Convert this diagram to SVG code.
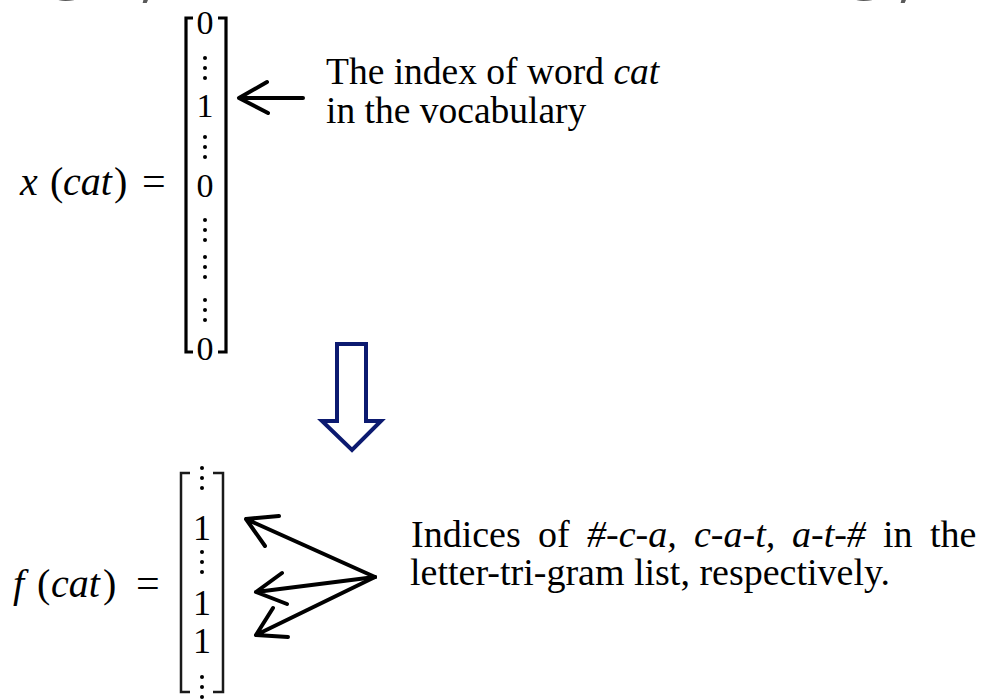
<svg xmlns="http://www.w3.org/2000/svg" width="990" height="699" viewBox="0 0 990 699">
<style>
.serif{font-family:"Liberation Serif","Times New Roman",serif;fill:#000}
.it{font-style:italic}
.dig{font-family:"Liberation Serif","Times New Roman",serif;fill:#000;text-anchor:middle}
.br{fill:none;stroke:#000;stroke-width:3.2}
.br2{fill:none;stroke:#1a1a1a;stroke-width:2.5}
.arr{fill:none;stroke:#000;stroke-width:4;stroke-linecap:round;stroke-linejoin:round}
.frag{font-family:"Open Sans","DejaVu Sans",sans-serif;fill:#595959;font-size:66px}
</style>
<defs>
<g id="vdots"><circle cx="0" cy="0" r="2"/><circle cx="0" cy="10" r="2"/><circle cx="0" cy="20" r="2"/></g>
</defs>
<rect width="990" height="699" fill="#fff"/>
<g id="top-fragments">
<text class="frag" x="50" y="-15">g</text>
<text class="frag" x="140" y="-6">,</text>
<text class="frag" x="848" y="-15">g</text>
<text class="frag" x="898" y="-6">,</text>
</g>
<g id="top-vector">
<text class="serif" font-size="40"><tspan x="20" y="195" class="it">x</tspan><tspan x="50" y="195">(</tspan><tspan x="63" y="195" class="it">cat</tspan><tspan x="114" y="195">)</tspan><tspan x="142" y="195" font-size="42">=</tspan></text>
<path class="br" d="M193,18 H186 V352 H193"/>
<path class="br" d="M218,18 H226 V352 H218"/>
<text class="dig" font-size="34" x="205" y="34">0</text>
<use href="#vdots" x="205" y="58"/>
<text class="dig" font-size="34" x="205" y="117">1</text>
<use href="#vdots" x="205" y="137"/>
<text class="dig" font-size="34" x="205" y="197">0</text>
<use href="#vdots" x="205" y="220"/>
<use href="#vdots" x="205" y="257"/>
<use href="#vdots" x="205" y="300"/>
<text class="dig" font-size="34" x="205" y="360">0</text>
</g>
<g id="top-label">
<text class="serif" font-size="37.5"><tspan x="326" y="84">The index of word <tspan class="it">cat</tspan></tspan><tspan x="326" y="123">in the vocabulary</tspan></text>
</g>
<g id="down-arrow">
<polygon points="337,344 366,344 366,421 381,421 352,450 322,421 337,421" fill="#fff" stroke="#0c1a70" stroke-width="4"/>
</g>
<g id="bottom-vector">
<text class="serif" font-size="40"><tspan x="13" y="597" class="it">f</tspan><tspan x="37" y="597">(</tspan><tspan x="51" y="597" class="it">cat</tspan><tspan x="103" y="597">)</tspan><tspan x="136" y="597" font-size="42">=</tspan></text>
<path class="br2" d="M190,473 H181 V692 H190"/>
<path class="br2" d="M213,473 H223 V692 H213"/>
<use href="#vdots" x="202" y="468"/>
<text class="dig" font-size="36" x="202" y="540">1</text>
<use href="#vdots" x="202" y="552"/>
<text class="dig" font-size="36" x="202" y="615">1</text>
<text class="dig" font-size="36" x="202" y="653">1</text>
<use href="#vdots" x="202" y="677"/>
</g>
<g id="bottom-label">
<text class="serif" font-size="38"><tspan x="411" y="547">Indices</tspan><tspan x="538" y="547">of</tspan><tspan x="587" y="547" class="it">#-c-a,</tspan><tspan x="694" y="547" class="it">c-a-t,</tspan><tspan x="792" y="547" class="it">a-t-#</tspan><tspan x="883" y="547">in</tspan><tspan x="930" y="547">the</tspan></text>
<text class="serif" font-size="38"><tspan x="410" y="585">letter-tri-gram list, respectively.</tspan></text>
</g>
<g id="connectors">
<path class="arr" stroke-width="3.5" d="M303,98 H239 M267,82 L239,98 L268,113"/>
<path class="arr" d="M375,577 L246,519 M279,516 L246,519 L265,546"/>
<path class="arr" d="M375,577 L256,592 M282,573 L256,592 L287,604"/>
<path class="arr" d="M375,577 L256,635 M273,608 L256,635 L288,637"/>
</g>
</svg>
